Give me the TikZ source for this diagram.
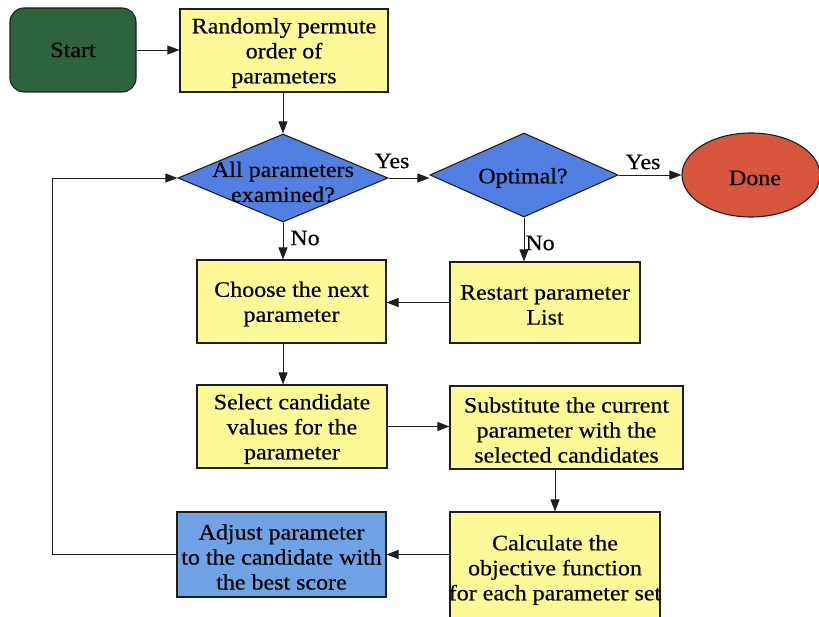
\documentclass[tikz,border=0pt]{standalone}
\usepackage{fontspec}
\setmainfont{Liberation Serif}[FakeStretch=1.09,FakeBold=0.4]
\usetikzlibrary{shapes.geometric,arrows.meta}
\definecolor{boxyellow}{RGB}{252,250,150}
\definecolor{diablue}{RGB}{82,128,226}
\definecolor{adjblue}{RGB}{112,162,230}
\definecolor{startgreen}{RGB}{45,100,62}
\definecolor{donered}{RGB}{216,86,62}
\definecolor{edgegray}{RGB}{30,30,30}
\tikzset{
  base/.style={draw=edgegray, line width=1.1pt, inner sep=0pt, align=center, font=\fontsize{22}{25}\selectfont},
  procbox/.style={base, rectangle, fill=boxyellow},
  decbox/.style={base, diamond, fill=diablue},
  txt/.style={align=center, inner sep=0pt, font=\fontsize{22}{25}\selectfont},
  conn/.style={draw=edgegray, line width=0.8pt, -{Triangle[length=12pt,width=9pt]}},
  plain/.style={draw=edgegray, line width=0.8pt}
}
\begin{document}
\begin{tikzpicture}[x=1pt,y=-1pt]
\useasboundingbox (0,0) rectangle (819,617);
% nodes
\node[base, rounded corners=14pt, fill=startgreen, minimum width=126pt, minimum height=84pt] (start) at (73,50) {Start};
\node[procbox, minimum width=208pt, minimum height=83pt] (perm) at (284,50.5) {};
\node[txt] (permt) at (284,53) {Randomly permute\\order of\\parameters};
\node[decbox, minimum width=210pt, minimum height=88pt] (d1) at (283,178) {};
\node[txt] (d1t) at (283,182) {All parameters\\examined?};
\node[decbox, minimum width=188pt, minimum height=84pt] (opt) at (524,175) {};
\node[txt] (optt) at (523,178) {Optimal?};
\node[base, ellipse, fill=donered, minimum width=138pt, minimum height=84pt] (done) at (751,175) {};
\node[txt] (donet) at (755,178) {Done};
\node[procbox, minimum width=189pt, minimum height=83pt] (choose) at (291.5,301.5) {};
\node[txt] (chooset) at (291.5,304) {Choose the next\\parameter};
\node[procbox, minimum width=190pt, minimum height=81pt] (restart) at (545,302.5) {};
\node[txt] (restartt) at (545,305) {Restart parameter\\List};
\node[procbox, minimum width=190pt, minimum height=83pt] (select) at (292,426.5) {};
\node[txt] (selectt) at (292,429) {Select candidate\\values for the\\parameter};
\node[procbox, minimum width=233pt, minimum height=83pt] (subst) at (566.5,427.5) {};
\node[txt] (substt) at (566.5,430) {Substitute the current\\parameter with the\\selected candidates};
\node[procbox, minimum width=210pt, minimum height=112pt] (calc) at (555,568) {};
\node[txt] (calct) at (555,570) {Calculate the\\objective function\\for each parameter set};
\node[procbox, fill=adjblue, minimum width=209pt, minimum height=85pt] (adjust) at (281.5,554.5) {};
\node[txt] (adjustt) at (281.5,557) {Adjust parameter\\to the candidate with\\the best score};
% labels
\node[txt] (y1) at (392,161) {Yes};
\node[txt] (n1) at (305,238) {No};
\node[txt] (y2) at (643,162) {Yes};
\node[txt] (n2) at (540,243) {No};
% connectors
\draw[conn] (start.east) -- (perm.west |- start.east);
\draw[conn] (d1.north |- perm.south) -- (d1.north);
\draw[conn] (d1.east) -- (opt.west |- d1.east);
\draw[conn] (opt.east) -- (done.west);
\draw[conn] (d1.south) -- (d1.south |- choose.north);
\draw[conn] (opt.south) -- (opt.south |- restart.north);
\draw[conn] (restart.west) -- (restart.west -| choose.east);
\draw[conn] (d1.south |- choose.south) -- (d1.south |- select.north);
\draw[conn] (select.east) -- (select.east -| subst.west);
\draw[conn] (calc.north |- subst.south) -- (calc.north);
\draw[conn] (calc.west |- adjust.east) -- (adjust.east);
\coordinate (loopc) at (52,554.5);
\draw[conn] (adjust.west) -- (loopc) |- (d1.west);
\end{tikzpicture}
\end{document}
